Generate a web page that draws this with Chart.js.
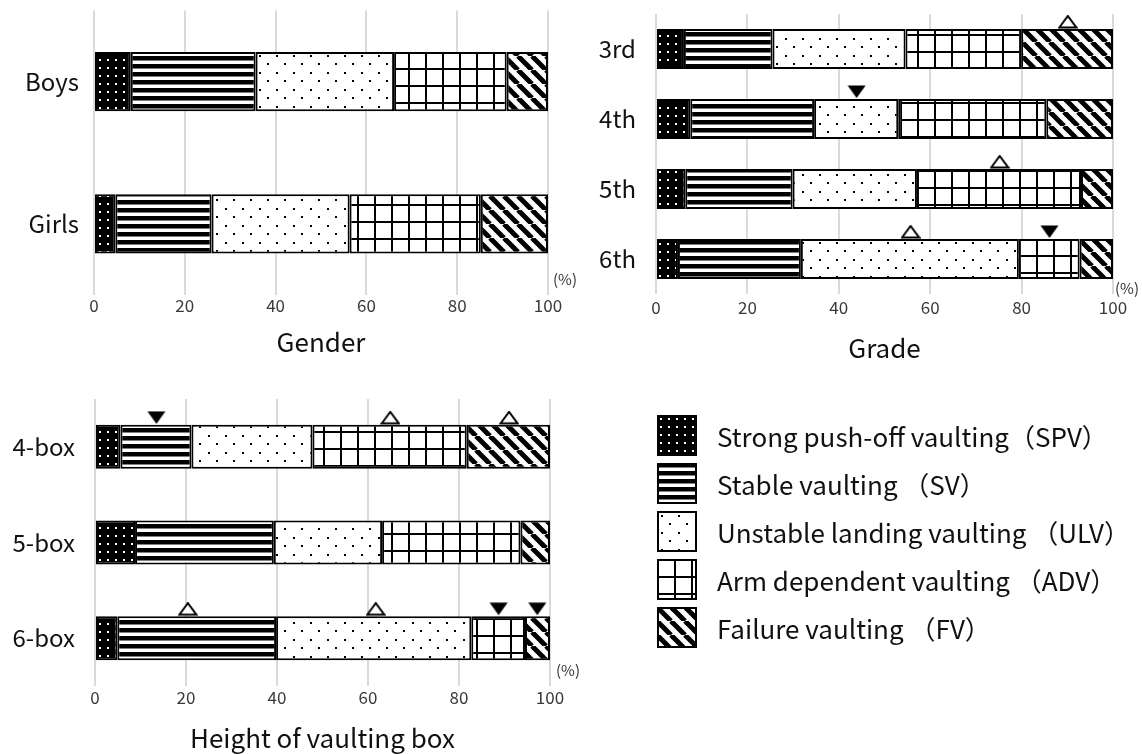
<!DOCTYPE html>
<html lang="en">

<head>
  <meta charset="UTF-8" />
  <title>Vaulting patterns by gender, grade and box height</title>
  <script src="https://cdn.jsdelivr.net/npm/chart.js"></script>
  <style>
    body { margin: 0; background: #fff; width: 1142px; height: 754px; position: relative; overflow: hidden;
           font-family: 'Noto Sans CJK JP', 'Noto Sans', sans-serif; }
    .panel { position: absolute; }
    .panel canvas { display: block; }
    #legend { position: absolute; left: 657px; top: 411px; }
    .item { display: flex; align-items: center; height: 48px; }
    .item canvas { display: block; margin-right: 20px; }
    .item span { font-size: 26px; color: #111; white-space: nowrap; }
  </style>
</head>

<body>
  <div class="panel" style="left:0;top:0"><canvas id="genderChart" width="600" height="358"></canvas></div>
  <div class="panel" style="left:560px;top:0"><canvas id="gradeChart" width="582" height="364"></canvas></div>
  <div class="panel" style="left:0;top:380px"><canvas id="heightChart" width="600" height="374"></canvas></div>
  <div id="legend"></div>

  <script>
    const FONT = "'Noto Sans CJK JP', 'Noto Sans', sans-serif";

    // vaulting categories (legend order = stacking order)
    const methodCodes = ['SPV', 'SV', 'ULV', 'ADV', 'FV'];
    const methodNames = [
      'Strong push-off vaulting（SPV）',
      'Stable vaulting （SV）',
      'Unstable landing vaulting （ULV）',
      'Arm dependent vaulting （ADV）',
      'Failure vaulting （FV）'
    ];

    // shares in %, one row per category: SPV, SV, ULV, ADV, FV
    const genderCats = ['Boys', 'Girls'];
    const genderShares = [
      [8.1, 27.5, 30.5, 24.8, 9.1],
      [4.7, 21.2, 30.4, 28.9, 14.8]
    ];

    const gradeCats = ['3rd', '4th', '5th', '6th'];
    const gradeShares = [
      [6.1, 19.4, 29.1, 25.3, 20.1],
      [7.5, 27.1, 18.4, 32.4, 14.6],
      [6.4, 23.5, 27.2, 35.9, 7.0],
      [4.8, 26.9, 47.7, 13.3, 7.3]
    ];
    // open triangles (higher) and filled triangles (lower)
    const gradeUpCats = ['3rd', '5th', '6th'];
    const gradeUpAt = [90.1, 75.2, 55.7];
    const gradeDownCats = ['4th', '6th'];
    const gradeDownAt = [43.9, 86.1];

    const boxCats = ['4-box', '5-box', '6-box'];
    const boxShares = [
      [5.6, 15.6, 26.6, 33.9, 18.3],
      [8.8, 30.5, 23.8, 30.4, 6.5],
      [4.9, 34.9, 42.9, 11.8, 5.5]
    ];
    const boxUpCats = ['4-box', '4-box', '6-box', '6-box'];
    const boxUpAt = [64.9, 91.0, 20.4, 61.7];
    const boxDownCats = ['4-box', '6-box', '6-box'];
    const boxDownAt = [13.5, 88.7, 97.2];

    const xTicks = [0, 20, 40, 60, 80, 100];

    // black & white fill patterns
    function makePattern(code) {
      const c = document.createElement('canvas');
      const g = c.getContext('2d');
      if (code === 'SPV') {
        c.width = 8; c.height = 8;
        g.fillStyle = '#000'; g.fillRect(0, 0, 8, 8);
        g.fillStyle = '#fff'; g.fillRect(3, 3, 2, 2);
      } else if (code === 'SV') {
        c.width = 8; c.height = 8;
        g.fillStyle = '#fff'; g.fillRect(0, 0, 8, 8);
        g.fillStyle = '#000'; g.fillRect(0, 0, 8, 4.5);
      } else if (code === 'ULV') {
        c.width = 17; c.height = 17;
        g.fillStyle = '#fff'; g.fillRect(0, 0, 17, 17);
        g.fillStyle = '#000'; g.fillRect(4, 4, 2, 2); g.fillRect(12, 12, 2, 2);
      } else if (code === 'ADV') {
        c.width = 17; c.height = 17;
        g.fillStyle = '#fff'; g.fillRect(0, 0, 17, 17);
        g.fillStyle = '#000'; g.fillRect(0, 0, 17, 2); g.fillRect(0, 0, 2, 17);
      } else {
        c.width = 14; c.height = 14;
        g.fillStyle = '#fff'; g.fillRect(0, 0, 14, 14);
        g.strokeStyle = '#000'; g.lineWidth = 5;
        for (const x0 of [-14, 0, 14]) {
          g.beginPath(); g.moveTo(x0, 0); g.lineTo(x0 + 14, 14); g.stroke();
        }
      }
      return g.createPattern(c, 'repeat');
    }
    const patterns = methodCodes.map(makePattern);

    // triangle image sitting above the bar: image is centred on the category,
    // so the triangle is drawn in its top part
    function markerImg(kind, half) {
      const c = document.createElement('canvas');
      c.width = 20; c.height = 2 * (half + 14);
      const g = c.getContext('2d');
      g.beginPath();
      if (kind === 'open') {
        g.moveTo(1.5, 12.5); g.lineTo(10, 1); g.lineTo(18.5, 12.5); g.closePath();
        g.fillStyle = '#fff'; g.fill();
        g.lineWidth = 2; g.strokeStyle = '#000'; g.stroke();
      } else {
        g.moveTo(1, 0.5); g.lineTo(19, 0.5); g.lineTo(10, 13); g.closePath();
        g.fillStyle = '#000'; g.fill();
      }
      return c;
    }

    // "(%)" note at the end of the value axis
    const pctNote = {
      id: 'pctNote',
      afterDraw(chart, args, opts) {
        const { ctx, chartArea } = chart;
        ctx.save();
        ctx.font = '15px ' + FONT;
        ctx.fillStyle = '#333';
        ctx.textBaseline = 'middle';
        ctx.fillText('(%)', chartArea.right + opts.dx, chartArea.bottom - opts.dy);
        ctx.restore();
      }
    };

    function makePanel(id, cats, shares, up, down, cfg) {
      const datasets = methodCodes.map((code, k) => ({
        type: 'bar',
        label: methodNames[k],
        data: shares.map(r => r[k]),
        backgroundColor: patterns[k],
        borderColor: '#000',
        borderWidth: 2,
        borderSkipped: false,
        barPercentage: cfg.bar,
        categoryPercentage: 1,
        xAxisID: 'x',
        stack: 'all'
      }));
      if (up) {
        datasets.push({
          type: 'line', label: 'higher', xAxisID: 'xm', showLine: false, clip: false,
          data: up[0].map((c, i) => ({ x: up[1][i], y: c })),
          pointStyle: markerImg('open', cfg.half), pointRadius: 9
        });
      }
      if (down) {
        datasets.push({
          type: 'line', label: 'lower', xAxisID: 'xm', showLine: false, clip: false,
          data: down[0].map((c, i) => ({ x: down[1][i], y: c })),
          pointStyle: markerImg('filled', cfg.half), pointRadius: 9
        });
      }

      new Chart(document.getElementById(id), {
        type: 'bar',
        data: { labels: cats, datasets: datasets },
        plugins: [pctNote],
        options: {
          responsive: false,
          animation: false,
          events: [],
          indexAxis: 'y',
          layout: { padding: { left: 0, right: cfg.padRight, top: cfg.padTop, bottom: 0 } },
          plugins: {
            legend: { display: false },
            tooltip: { enabled: false },
            pctNote: { dx: cfg.pctDx, dy: cfg.pctDy }
          },
          scales: {
            x: {
              type: 'linear', min: 0, max: 100, stacked: true,
              afterBuildTicks: axis => { axis.ticks = xTicks.map(v => ({ value: v })); },
              afterFit: axis => { axis.height = cfg.xHeight; axis.paddingLeft = 0; axis.paddingRight = 0; },
              border: { display: false },
              grid: { color: '#dadada', lineWidth: 2, drawTicks: false },
              ticks: { padding: cfg.tickPad, color: '#3a3a3a', font: { size: 17, family: FONT } },
              title: {
                display: true, text: cfg.title, color: '#111',
                font: { size: 26, family: FONT }, padding: { top: 0, bottom: 0 }
              }
            },
            xm: { type: 'linear', axis: 'x', min: 0, max: 100, display: false },
            y: {
              stacked: true,
              // fixed width, and no extra room above/below for the labels
              afterFit: axis => { axis.width = cfg.yWidth; axis.paddingTop = 0; axis.paddingBottom = 0; },
              border: { display: false },
              grid: { display: false, drawTicks: false },
              ticks: { padding: cfg.yPad, color: '#111', font: { size: 24, family: FONT } }
            }
          }
        }
      });
    }

    makePanel('genderChart', genderCats, genderShares, null, null, {
      title: 'Gender', yWidth: 94, yPad: 15, padRight: 52, padTop: 10.5, xHeight: 63,
      tickPad: 0, bar: 0.415, half: 30, pctDx: 5, pctDy: 16
    });
    makePanel('gradeChart', gradeCats, gradeShares, [gradeUpCats, gradeUpAt], [gradeDownCats, gradeDownAt], {
      title: 'Grade', yWidth: 96, yPad: 20, padRight: 29, padTop: 14, xHeight: 70,
      tickPad: 3, bar: 0.571, half: 20, pctDx: 2, pctDy: 6
    });
    makePanel('heightChart', boxCats, boxShares, [boxUpCats, boxUpAt], [boxDownCats, boxDownAt], {
      title: 'Height of vaulting box', yWidth: 95, yPad: 20, padRight: 50, padTop: 19, xHeight: 68,
      tickPad: 1.5, bar: 0.46, half: 22, pctDx: 6, pctDy: 16
    });

    // legend with the same patterns
    const legend = document.getElementById('legend');
    methodNames.forEach((name, k) => {
      const item = document.createElement('div');
      item.className = 'item';
      const sw = document.createElement('canvas');
      sw.width = 40; sw.height = 41;
      const g = sw.getContext('2d');
      g.fillStyle = patterns[k]; g.fillRect(0, 0, 40, 41);
      g.strokeStyle = '#000'; g.lineWidth = 2; g.strokeRect(1, 1, 38, 39);
      const txt = document.createElement('span');
      txt.textContent = name;
      item.appendChild(sw);
      item.appendChild(txt);
      legend.appendChild(item);
    });
  </script>
</body>

</html>
